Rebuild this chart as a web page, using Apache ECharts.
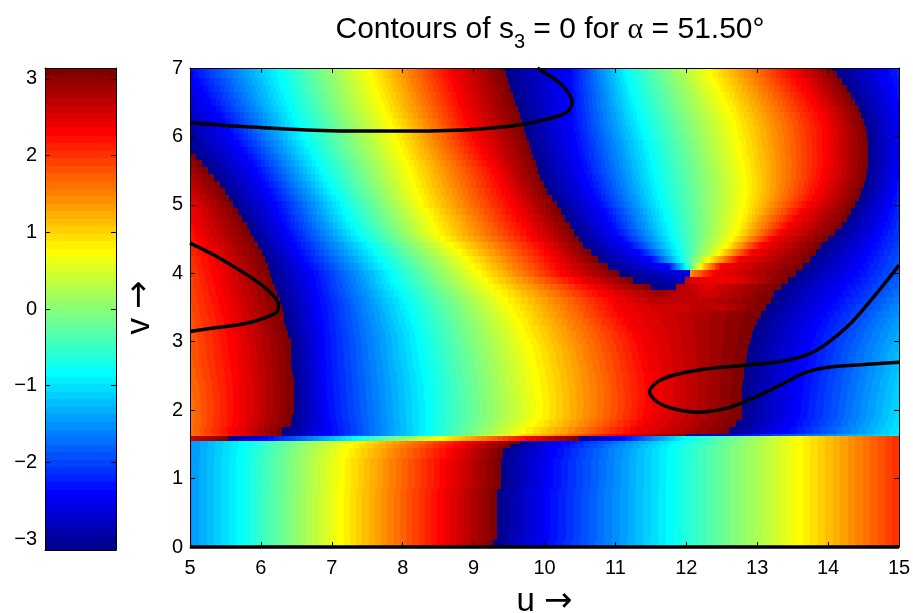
<!DOCTYPE html>
<html><head><meta charset="utf-8">
<style>html,body{margin:0;padding:0;background:#fff}#c{width:913px;height:613px}</style>
<script src="https://cdn.jsdelivr.net/npm/echarts@6/dist/echarts.min.js"></script>
</head><body><div id="c"></div>
<script>
// Phase values at the colour transitions of the picture
const K=-3.1416,B=-2.36,C=-0.79,Y=0.79,R=2.36,W=3.1416;
const yRange=[0,7], barTicks=[-3,-2,-1,0,1,2,3];

// Readings per horizontal row: u position where the phase reaches each level.
// Rows below the strip: [vLow,vHigh, phase/position pairs]
const lowerRows=[
 [0,0.1,[5,-1.5,5.75,C,7.17,Y,8.58,R,9.28,W,9.28,K,10.05,B,11.82,C,13.65,Y,15,2.05]],
 [0.1,0.85,[5,-1.5,5.75,C,7.17,Y,8.58,R,9.33,W,9.33,K,10.08,B,11.82,C,13.65,Y,15,2.05]],
 [0.85,1.3,[5,-1.5,5.75,C,7.19,Y,8.62,R,9.38,W,9.38,K,10.12,B,11.82,C,13.65,Y,15,2.05]],
 [1.3,1.45,[5,-1.5,5.77,C,7.24,Y,8.7,R,9.42,W,9.42,K,10.17,B,11.82,C,13.65,Y,15,2.05]],
 [1.45,1.5,[5,-1.5,5.79,C,7.3,Y,8.8,R,9.52,W,9.52,K,10.25,B,11.85,C,13.65,Y,15,2.05]],
 [1.5,1.55,[5,-1.5,5.8,C,7.38,Y,8.9,R,9.66,W,9.66,K,10.35,B,11.9,C,13.65,Y,15,2.05]],
 [1.55,1.62,[5,2.55,5.53,W,5.53,K,6.1,B,7.36,C,8.58,Y,9.8,R,10.48,W,10.48,K,11.1,B,12,C,13.65,Y,15,2.05]],
 [1.62,1.65,[5,1.6,5.7,R,6.3,W,6.3,K,7,B,8.38,C,9.6,Y,11,R,12,W,12,K,12.75,B,15,-0.9]]
];
// v, start phase, uRed, uWrap, uBlue, uCyan, uYellow, uRed2, uWrap2, end phase
const plainRows=[
 [1.7,1.6,5.62,6.3,7.0,8.4,9.75,11.3,12.6,-0.95],
 [1.8,1.6,5.68,6.42,6.98,8.4,9.9,11.4,12.7,-1.0],
 [1.9,1.6,5.7,6.44,6.96,8.4,9.97,11.48,12.78,-1.03],
 [2.0,1.6,5.7,6.46,6.95,8.4,9.98,11.5,12.78,-1.05],
 [2.1,1.6,5.7,6.46,6.94,8.4,9.98,11.52,12.78,-1.07],
 [2.2,1.62,5.7,6.46,6.93,8.39,9.97,11.52,12.78,-1.09],
 [2.3,1.64,5.7,6.46,6.93,8.38,9.96,11.52,12.79,-1.11],
 [2.4,1.66,5.7,6.46,6.92,8.37,9.94,11.51,12.8,-1.13],
 [2.5,1.68,5.69,6.45,6.92,8.36,9.93,11.5,12.81,-1.15],
 [2.6,1.7,5.68,6.44,6.91,8.34,9.91,11.48,12.82,-1.18],
 [2.7,1.72,5.67,6.43,6.91,8.32,9.89,11.46,12.84,-1.2],
 [2.8,1.74,5.66,6.43,6.9,8.3,9.87,11.43,12.85,-1.23],
 [2.9,1.75,5.65,6.42,6.9,8.29,9.84,11.41,12.87,-1.26],
 [3.0,1.76,5.64,6.42,6.9,8.27,9.8,11.38,12.9,-1.3],
 [3.1,1.77,5.62,6.38,6.89,8.25,9.76,11.33,12.93,-1.34],
 [3.2,1.78,5.6,6.35,6.88,8.22,9.72,11.27,12.96,-1.38],
 [3.3,1.8,5.58,6.33,6.87,8.19,9.67,11.2,13.0,-1.43],
 [3.4,1.82,5.55,6.32,6.86,8.16,9.62,11.12,13.06,-1.49]
];
// rows around the bottom of the bowl: v, pairs
const bowlRows=[
 [3.5,[5,1.84,5.52,R,6.3,W,6.3,K,6.85,B,8.12,C,9.56,Y,11.06,R,11.6,2.6,12.5,2.7,13.13,W,13.13,K,15,-1.55]],
 [3.6,[5,1.86,5.5,R,6.27,W,6.27,K,6.83,B,8.08,C,9.49,Y,11.0,R,11.6,2.75,12.2,2.65,13.2,W,13.2,K,15,-1.62]],
 [3.7,[5,1.88,5.47,R,6.23,W,6.23,K,6.8,B,8.02,C,9.4,Y,10.85,R,11.6,2.9,12.0,2.68,12.4,2.6,13.24,W,13.24,K,15,-1.7]],
 [3.8,[5,1.9,5.45,R,6.2,W,6.2,K,6.78,B,7.96,C,9.3,Y,10.7,R,11.5,W,11.5,K,11.85,-2.95,11.85,2.8,12.3,2.5,13.33,W,13.33,K,15,-1.75]],
 [3.9,[5,1.92,5.42,R,6.16,W,6.16,K,6.77,B,7.9,C,9.2,Y,10.5,R,11.25,W,11.25,K,11.98,-2.8,11.98,2.6,12.3,R,12.7,2.45,13.43,W,13.43,K,15,-1.8]],
 [4.0,[5,1.95,5.4,R,6.13,W,6.13,K,6.75,B,7.87,C,9.12,Y,10.3,R,11.05,W,11.05,K,12.05,-2.5,12.05,1.4,12.4,R,13.55,W,13.55,K,15,-1.85]]
];
// v, start, uRed, uWrap, uBlue,uCyan,uYellow,uRed2,uWrap2, uBlue2,uCyan2,uYellow2,uRed3,uWrap3, end
const fanRows=[
 [4.1,1.98,5.37,6.1,6.68,7.79,9.03,10.22,10.9,11.75,12.0,12.2,12.5,13.65,-1.88],
 [4.2,2.0,5.35,6.06,6.61,7.72,8.94,10.15,10.75,11.5,11.93,12.33,12.75,13.74,-1.91],
 [4.3,2.05,5.28,6.01,6.55,7.64,8.84,10.08,10.65,11.35,11.9,12.48,12.93,13.83,-1.95],
 [4.4,2.1,5.22,5.96,6.5,7.56,8.73,10.0,10.55,11.2,11.87,12.58,13.08,13.9,-2.0],
 [4.5,2.15,5.16,5.9,6.45,7.46,8.6,9.9,10.48,11.1,11.83,12.66,13.22,14.0,-2.05],
 [4.6,2.2,5.1,5.85,6.4,7.39,8.52,9.82,10.42,11.02,11.8,12.72,13.35,14.1,-2.08],
 [4.7,2.25,5.06,5.8,6.35,7.32,8.48,9.75,10.36,10.95,11.77,12.76,13.45,14.2,-2.11],
 [4.8,2.3,5.02,5.74,6.3,7.26,8.43,9.68,10.29,10.9,11.74,12.79,13.55,14.27,-2.14]
];
// v, start, uWrap, then as above
const lobeTipRows=[
 [4.9,2.36,5.67,6.26,7.21,8.37,9.62,10.23,10.85,11.72,12.82,13.65,14.33,-2.17],
 [5.0,2.42,5.61,6.23,7.17,8.3,9.57,10.17,10.78,11.69,12.85,13.75,14.38,-2.2],
 [5.1,2.5,5.55,6.17,7.11,8.27,9.52,10.11,10.73,11.66,12.86,13.83,14.43,-2.24],
 [5.2,2.58,5.49,6.12,7.05,8.23,9.47,10.04,10.68,11.64,12.87,13.88,14.47,-2.28],
 [5.3,2.65,5.43,6.06,6.99,8.19,9.42,9.99,10.64,11.62,12.87,13.92,14.51,-2.32],
 [5.4,2.75,5.34,6.0,6.93,8.16,9.38,9.94,10.6,11.6,12.86,13.96,14.54,-2.36],
 [5.5,2.85,5.26,5.95,6.88,8.13,9.33,9.91,10.56,11.58,12.85,13.98,14.55,-2.4],
 [5.6,2.95,5.17,5.88,6.83,8.09,9.27,9.88,10.53,11.56,12.83,14.0,14.56,-2.41],
 [5.7,3.05,5.09,5.82,6.78,8.05,9.21,9.84,10.5,11.54,12.81,14.0,14.56,-2.42]
];
// v, start, uBlue, uCyan,uYellow,uRed,uWrap, uBlue2,uCyan2,uYellow2,uRed2,uWrap2, end
const topRows=[
 [5.8,-3.14,5.76,6.73,8.01,9.16,9.81,10.48,11.52,12.79,14.0,14.56,-2.43],
 [5.9,-3.07,5.69,6.68,7.97,9.1,9.78,10.46,11.5,12.77,14.0,14.56,-2.44],
 [6.0,-3.0,5.62,6.63,7.93,9.05,9.74,10.44,11.45,12.75,14.0,14.55,-2.45],
 [6.1,-2.93,5.56,6.59,7.89,9.01,9.71,10.42,11.42,12.73,13.99,14.54,-2.43],
 [6.2,-2.85,5.49,6.54,7.85,8.97,9.68,10.41,11.39,12.7,13.97,14.5,-2.41],
 [6.3,-2.78,5.43,6.5,7.8,8.93,9.65,10.4,11.36,12.66,13.93,14.47,-2.39],
 [6.4,-2.7,5.36,6.46,7.76,8.89,9.62,10.39,11.33,12.62,13.88,14.44,-2.37],
 [6.5,-2.63,5.3,6.42,7.72,8.85,9.58,10.38,11.3,12.58,13.83,14.38,-2.35],
 [6.6,-2.56,5.24,6.39,7.69,8.82,9.55,10.38,11.28,12.53,13.77,14.32,-2.32],
 [6.7,-2.5,5.18,6.36,7.65,8.78,9.52,10.38,11.25,12.48,13.7,14.26,-2.29],
 [6.8,-2.42,5.12,6.33,7.62,8.75,9.48,10.38,11.22,12.43,13.63,14.2,-2.26],
 [6.9,-2.37,5.05,6.3,7.58,8.71,9.45,10.38,11.19,12.38,13.56,14.13,-2.23],
 [7.0,-2.3,5.0,6.28,7.55,8.68,9.42,10.38,11.17,12.34,13.5,14.06,-2.2]
];

// Contours of s3 = 0
const contourTop=[[5,6.2],[5.8,6.14],[7.2,6.08],[8.15,6.08],[9.1,6.11],[9.66,6.17],[9.94,6.23],[10.14,6.28],[10.32,6.36],[10.39,6.48],[10.37,6.58],[10.22,6.78],[9.94,6.97],[9.9,7]];
const contourLeft=[[5,4.44],[5.33,4.27],[5.8,3.98],[6.09,3.76],[6.25,3.54],[6.21,3.42],[5.8,3.27],[5.33,3.2],[5,3.15]];
const contourRight=[[15,4.12],[14.82,3.88],[14.64,3.65],[14.32,3.27],[13.99,2.98],[13.71,2.81],[13.33,2.71],[12.76,2.65],[12.2,2.59],[11.82,2.51],[11.59,2.41],[11.48,2.27],[11.59,2.12],[11.82,2.02],[12.16,1.97],[12.58,2.03],[12.95,2.18],[13.33,2.37],[13.66,2.54],[13.95,2.62],[14.41,2.66],[15,2.7]];
const contourBase=[[5,0],[15,0]];

// ---- assemble rows ----
const rows=[];
lowerRows.forEach(r=>rows.push(r));
const span=v=>[v-0.05,Math.min(7,v+0.05)];
const add=(v,p)=>{const s=span(v);rows.push([s[0],s[1],p]);};
plainRows.forEach(r=>add(r[0],[5,r[1],r[2],R,r[3],W,r[3],K,r[4],B,r[5],C,r[6],Y,r[7],R,r[8],W,r[8],K,15,r[9]]));
bowlRows.forEach(r=>add(r[0],r[1]));
const tail=(a,i)=>[a[i],B,a[i+1],C,a[i+2],Y,a[i+3],R,a[i+4],W,a[i+4],K,a[i+5],B,a[i+6],C,a[i+7],Y,a[i+8],R,a[i+9],W,a[i+9],K,15,a[i+10]];
fanRows.forEach(r=>add(r[0],[5,r[1],r[2],R,r[3],W,r[3],K].concat(tail(r,4))));
lobeTipRows.forEach(r=>add(r[0],[5,r[1],r[2],W,r[2],K].concat(tail(r,3))));
topRows.forEach(r=>add(r[0],[5,r[1]].concat(tail(r,2))));

// ---- jet(64) colormap ----
function jet(k){ // k = 1..64
  const f=(x0,y0,x1,y1,x)=>y0+(y1-y0)*(x-x0)/(x1-x0);
  let r,g,b;
  b=k<=8?f(0,0.5,8,1,k):k<=24?1:k<=40?f(24,1,40,0,k):0;
  g=k<=8?0:k<=24?f(8,0,24,1,k):k<=40?1:k<=56?f(40,1,56,0,k):0;
  r=k<=24?0:k<=40?f(24,0,40,1,k):k<=56?1:f(56,1,64,0.5,k);
  return 'rgb('+[r,g,b].map(c=>Math.round(c*255)).join(',')+')';
}
const level=p=>Math.max(0,Math.min(63,Math.floor((p+Math.PI)/(2*Math.PI)*64)));
const colorStopsFor=pairs=>{
  const stops=[];const off=u=>(u-5)/10;
  const put=(u,l)=>stops.push({offset:off(u),color:jet(l+1)});
  for(let i=0;i+3<pairs.length;i+=2){
    const u0=pairs[i],p0=pairs[i+1],u1=pairs[i+2],p1=pairs[i+3];
    if(u1<=u0) continue;
    const l0=level(p0),l1=level(p1),d=l1>=l0?1:-1;
    let cur=u0;
    for(let l=l0;l!==l1;l+=d){
      const edge=(d>0?l+1:l)/64*2*Math.PI-Math.PI;
      const u=u0+(u1-u0)*(edge-p0)/(p1-p0);
      put(cur,l);put(u,l);cur=u;
    }
    put(cur,l1);put(u1,l1);
  }
  return stops;
};
const rowStops=rows.map(r=>colorStopsFor(r[2]));

const font='"Liberation Sans",Arial,sans-serif';
const chart=echarts.init(document.getElementById('c'),null,{renderer:'canvas'});
const minus=v=>String(v).replace('-','\u2212');
const tickLab={color:'#000',fontFamily:font,fontSize:20};
const line={show:true,onZero:false,lineStyle:{color:'#000',width:1}};
const tick={show:true,inside:true,length:5,lineStyle:{color:'#000',width:1}};
const nameStyle={fontFamily:font,fontSize:33,color:'#000',rich:{ar:{fontFamily:'"DejaVu Sans"',fontSize:34,color:'#000'}}};
const mainX=(pos,show,extra)=>Object.assign({type:'value',gridIndex:0,position:pos,min:5,max:15,interval:1,axisLine:line,axisTick:tick,splitLine:{show:false},z:10,axisLabel:Object.assign({},tickLab,{show:show,margin:11})},extra||{});
const mainY=(pos,show,extra)=>Object.assign({type:'value',gridIndex:0,position:pos,min:yRange[0],max:yRange[1],interval:1,axisLine:line,axisTick:tick,splitLine:{show:false},z:10,axisLabel:Object.assign({},tickLab,{show:show,margin:7})},extra||{});
const contour=d=>({type:'line',xAxisIndex:0,yAxisIndex:0,data:d,smooth:0.3,showSymbol:false,symbol:'none',lineStyle:{color:'#000',width:3.5},z:5,silent:true,animation:false,clip:false});

chart.setOption({
  animation:false,
  backgroundColor:'#fff',
  title:{
    left:545,top:3,textAlign:'center',
    text:'Contours of s{s|3} = 0 for {a|\u03b1} = 51.50\u00b0',
    textStyle:{fontFamily:font,fontSize:30,fontWeight:'normal',color:'#000',
      rich:{s:{fontFamily:font,fontSize:20,color:'#000',verticalAlign:'bottom',padding:[20,0,0,0],lineHeight:44},
            a:{fontFamily:'"Liberation Serif",serif',fontSize:30,color:'#000'}}}
  },
  grid:[
    {left:190,right:14,top:68,bottom:66,containLabel:false,outerBoundsMode:'none'},
    {left:45,width:71,top:68,height:482,containLabel:false,outerBoundsMode:'none'}
  ],
  xAxis:[
    mainX('bottom',true,{name:'u {ar|\u2192}',nameLocation:'middle',nameGap:38,nameTextStyle:nameStyle}),
    mainX('top',false),
    {type:'value',gridIndex:1,position:'bottom',min:0,max:1,axisLine:line,axisTick:{show:false},axisLabel:{show:false},splitLine:{show:false},z:10},
    {type:'value',gridIndex:1,position:'top',min:0,max:1,axisLine:line,axisTick:{show:false},axisLabel:{show:false},splitLine:{show:false},z:10}
  ],
  yAxis:[
    mainY('left',true,{name:'v {ar|\u2192}',nameLocation:'middle',nameGap:33,nameRotate:90,nameTextStyle:nameStyle}),
    mainY('right',false),
    {type:'value',gridIndex:1,position:'left',min:-Math.PI,max:Math.PI,
      axisLine:line,axisTick:Object.assign({},tick,{customValues:barTicks}),splitLine:{show:false},z:10,
      axisLabel:Object.assign({},tickLab,{margin:8,customValues:barTicks,formatter:minus})},
    {type:'value',gridIndex:1,position:'right',min:-Math.PI,max:Math.PI,
      axisLine:line,axisTick:Object.assign({},tick,{customValues:barTicks}),axisLabel:{show:false,customValues:barTicks},splitLine:{show:false},z:10}
  ],
  series:[
    {type:'custom',xAxisIndex:0,yAxisIndex:0,z:2,silent:true,clip:true,
     data:rows.map((r,i)=>[i,r[0],r[1]]),encode:{y:[1,2]},
     renderItem:(p,api)=>{
       const i=api.value(0),a=api.coord([5,api.value(2)]),b=api.coord([15,api.value(1)]);
       const x=Math.round(a[0]),y=Math.round(a[1]),w=Math.round(b[0])-x,h=Math.round(b[1])-y;
       return {type:'rect',shape:{x:x,y:y,width:w,height:h},
         style:{fill:{type:'linear',x:0,y:0,x2:1,y2:0,global:false,colorStops:rowStops[i]}}};
     }},
    contour(contourTop),contour(contourLeft),contour(contourRight),contour(contourBase),
    {type:'custom',xAxisIndex:2,yAxisIndex:2,z:2,silent:true,clip:true,
     data:Array.from({length:64},(_,k)=>[k,-Math.PI+k*2*Math.PI/64,-Math.PI+(k+1)*2*Math.PI/64]),encode:{y:[1,2]},
     renderItem:(p,api)=>{
       const k=api.value(0),a=api.coord([0,api.value(2)]),b=api.coord([1,api.value(1)]);
       const y=Math.round(a[1]);
       return {type:'rect',shape:{x:a[0],y:y,width:b[0]-a[0],height:Math.round(b[1])-y},style:{fill:jet(k+1)}};
     }}
  ]
});
</script></body></html>
